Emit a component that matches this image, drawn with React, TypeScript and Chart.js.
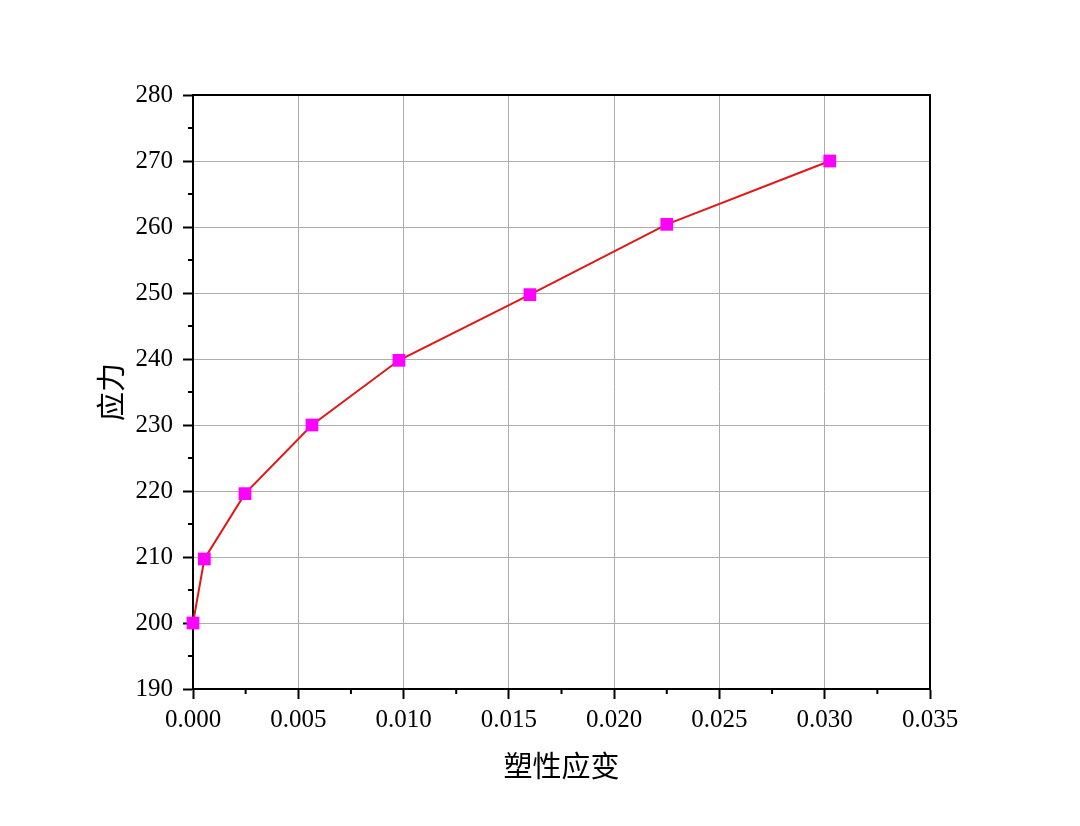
import React, { useEffect, useRef } from "react";
import { Chart, registerables } from "chart.js";

Chart.register(...registerables);

const strainValues = [0, 0.00054, 0.00247, 0.00565, 0.00978, 0.016, 0.0225, 0.03024];
const stressValues = [200, 209.7, 219.6, 230, 239.8, 249.75, 260.4, 270];
const xTitle = "塑性应变";
const yTitle = "应力";
const xMin = 0, xMax = 0.035, xStep = 0.005;
const yMin = 190, yMax = 280, yStep = 10;

const frameAndMinorTicks = {
  id: "frameAndMinorTicks",
  afterDraw(chart: any) {
    const { ctx, chartArea, scales } = chart;
    const xs = scales.x, ys = scales.y;
    ctx.save();
    ctx.strokeStyle = "#000";
    ctx.lineWidth = 2;
    ctx.beginPath();
    ctx.moveTo(chartArea.left, chartArea.top);
    ctx.lineTo(chartArea.right, chartArea.top);
    ctx.lineTo(chartArea.right, chartArea.bottom);
    ctx.stroke();
    ctx.beginPath();
    for (let v = xMin + xStep / 2; v < xMax; v += xStep) {
      const px = xs.getPixelForValue(v);
      ctx.moveTo(px, chartArea.bottom);
      ctx.lineTo(px, chartArea.bottom + 5);
    }
    for (let v = yMin + yStep / 2; v < yMax; v += yStep) {
      const py = ys.getPixelForValue(v);
      ctx.moveTo(chartArea.left, py);
      ctx.lineTo(chartArea.left - 5, py);
    }
    ctx.stroke();
    ctx.restore();
  },
};

export default function App() {
  const ref = useRef<HTMLCanvasElement>(null);
  useEffect(() => {
    if (!ref.current) return;
    const tickFont = { family: '"Liberation Serif", "Times New Roman", serif', size: 25 };
    const titleFont = { family: '"Noto Sans CJK SC", sans-serif', size: 29 };
    const chart = new Chart(ref.current, {
      type: "line",
      data: {
        datasets: [
          {
            data: strainValues.map((x, i) => ({ x, y: stressValues[i] })),
            borderColor: "#e01818",
            borderWidth: 2,
            pointStyle: "rect",
            pointRadius: 9,
            pointBackgroundColor: "#ff00ff",
            pointBorderColor: "#ff00ff",
            pointBorderWidth: 0,
            tension: 0,
            clip: false,
          },
        ],
      },
      options: {
        animation: false,
        responsive: false,
        layout: { padding: { top: 95, right: 150, left: 0, bottom: 0 } },
        plugins: { legend: { display: false }, tooltip: { enabled: false } },
        scales: {
          x: {
            type: "linear",
            min: xMin,
            max: xMax,
            afterFit: (s: any) => { s.height = 137; },
            ticks: {
              stepSize: xStep,
              color: "#000",
              font: tickFont,
              padding: 6,
              maxRotation: 0,
              callback: (v: any) => Number(v).toFixed(3),
            },
            grid: {
              color: "#adadad",
              lineWidth: 1,
              tickColor: "#000",
              tickWidth: 2,
              tickLength: 10,
            },
            border: { color: "#000", width: 2 },
            title: {
              display: true,
              text: xTitle,
              color: "#000",
              font: titleFont,
              padding: { top: 0, bottom: 43 },
            },
          },
          y: {
            type: "linear",
            min: yMin,
            max: yMax,
            afterFit: (s: any) => { s.width = 193; },
            ticks: {
              stepSize: yStep,
              color: "#000",
              font: tickFont,
              padding: 10,
            },
            grid: {
              color: "#adadad",
              lineWidth: 1,
              tickColor: "#000",
              tickWidth: 2,
              tickLength: 10,
            },
            border: { color: "#000", width: 2 },
            title: {
              display: true,
              text: yTitle,
              color: "#000",
              font: titleFont,
              padding: { top: 94, bottom: 0 },
            },
          },
        },
      },
      plugins: [frameAndMinorTicks],
    } as any);
    return () => chart.destroy();
  }, []);
  return (
    <div style={{ position: "fixed", left: 0, top: 0, width: 1080, height: 826, background: "#fff" }}>
      <canvas ref={ref} width={1080} height={826} style={{ width: 1080, height: 826 }} />
    </div>
  );
}
